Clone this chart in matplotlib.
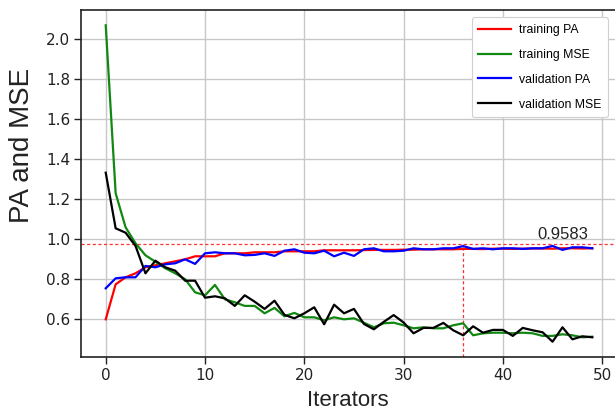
import matplotlib
matplotlib.use("Agg")
import matplotlib.pyplot as plt
import numpy as np

iterations = list(range(50))

training_pa = [0.60, 0.775, 0.81, 0.83, 0.86, 0.87, 0.88, 0.89, 0.90, 0.915,
               0.915, 0.915, 0.93, 0.93, 0.93, 0.935, 0.935, 0.935, 0.94, 0.94,
               0.94, 0.94, 0.945, 0.945, 0.945, 0.945, 0.946, 0.947, 0.947, 0.947,
               0.948, 0.948, 0.95, 0.95, 0.95, 0.95, 0.952, 0.952, 0.951, 0.953,
               0.953, 0.952, 0.953, 0.954, 0.954, 0.953, 0.955, 0.955, 0.954, 0.955]

training_mse = [2.07, 1.23, 1.06, 0.98, 0.92, 0.888, 0.855, 0.83, 0.80, 0.735,
                0.72, 0.772, 0.70, 0.685, 0.667, 0.667, 0.63, 0.657, 0.615, 0.632,
                0.61, 0.61, 0.595, 0.61, 0.60, 0.605, 0.583, 0.56, 0.58, 0.583,
                0.57, 0.555, 0.56, 0.555, 0.555, 0.57, 0.58, 0.52, 0.53, 0.533,
                0.533, 0.53, 0.533, 0.53, 0.517, 0.517, 0.525, 0.52, 0.51, 0.513]

validation_pa = [0.755, 0.805, 0.81, 0.81, 0.867, 0.86, 0.875, 0.88, 0.90, 0.877,
                 0.93, 0.935, 0.93, 0.93, 0.92, 0.922, 0.93, 0.917, 0.943, 0.95,
                 0.933, 0.93, 0.943, 0.915, 0.933, 0.917, 0.95, 0.955, 0.94, 0.94,
                 0.943, 0.955, 0.95, 0.95, 0.955, 0.955, 0.966, 0.952, 0.955, 0.95,
                 0.955, 0.955, 0.952, 0.955, 0.955, 0.967, 0.947, 0.96, 0.96, 0.955]

validation_mse = [1.333, 1.055, 1.033, 0.967, 0.83, 0.893, 0.86, 0.843, 0.793, 0.793,
                  0.708, 0.715, 0.705, 0.667, 0.72, 0.688, 0.652, 0.693, 0.622, 0.605,
                  0.63, 0.66, 0.575, 0.673, 0.63, 0.652, 0.577, 0.55, 0.587, 0.621,
                  0.584, 0.53, 0.557, 0.557, 0.582, 0.545, 0.52, 0.565, 0.533, 0.547,
                  0.547, 0.517, 0.557, 0.545, 0.535, 0.488, 0.56, 0.50, 0.515, 0.51]

best_iter = 36
best_line_y = 0.975
best_label = "0.9583"

xticks = [0, 10, 20, 30, 40, 50]
yticks = [0.6, 0.8, 1.0, 1.2, 1.4, 1.6, 1.8, 2.0]

label_font = "Liberation Sans"

fig = plt.figure(figsize=(6.15, 4.11), dpi=100)
ax = fig.add_axes([81.5 / 615, (411 - 357) / 411, (615 - 81.5) / 615, (357 - 10) / 411])

ax.grid(True, color="#c8c8c8", linewidth=1.0, zorder=0)
ax.set_axisbelow(True)

ax.plot(iterations, training_pa, color="red", lw=1.6, label="training PA", zorder=3)
ax.plot(iterations, training_mse, color="#118811", lw=1.6, label="training MSE", zorder=3)
ax.plot(iterations, validation_pa, color="blue", lw=1.6, label="validation PA", zorder=4)
ax.plot(iterations, validation_mse, color="black", lw=1.6, label="validation MSE", zorder=4)

ylim = (0.4115, 2.1465)
ax.set_xlim(-2.44, 51.29)
ax.set_ylim(*ylim)

ax.axhline(best_line_y, color="#ff3030", lw=0.9, ls=(0, (2.5, 2)), zorder=2)
ax.plot([best_iter, best_iter], [ylim[0], best_line_y], color="#ff3030", lw=0.9,
        ls=(0, (2.5, 2)), zorder=2)
ax.text(48.6, 1.0, best_label, ha="right", va="baseline", fontsize=12,
        family=label_font, color="#222222")

ax.set_xticks(xticks)
ax.set_yticks(yticks)
ax.set_yticklabels([f"{v:.1f}" for v in yticks])
ax.tick_params(axis="both", labelsize=11, length=5, width=1, pad=3, colors="#222222")

for s in ["top", "left", "bottom"]:
    ax.spines[s].set_linewidth(1.2)
    ax.spines[s].set_color("#222222")
ax.spines["right"].set_visible(False)

ax.set_xlabel("Iterators", fontsize=16, family=label_font, color="#222222")
ax.set_ylabel("PA and MSE", fontsize=20, family=label_font, color="#222222")
ax.xaxis.set_label_coords(0.5, -0.095)
ax.yaxis.set_label_coords(-0.088, 0.611)

leg = ax.legend(loc="upper right", prop={"family": label_font, "size": 8.8},
                handlelength=2.7, handletextpad=0.6, labelspacing=1.05,
                borderaxespad=0.6, borderpad=0.55, framealpha=1.0, fancybox=True)
leg.get_frame().set_edgecolor("#d0d0d0")
leg.get_frame().set_linewidth(0.8)

fig.savefig("out.png", dpi=100)
